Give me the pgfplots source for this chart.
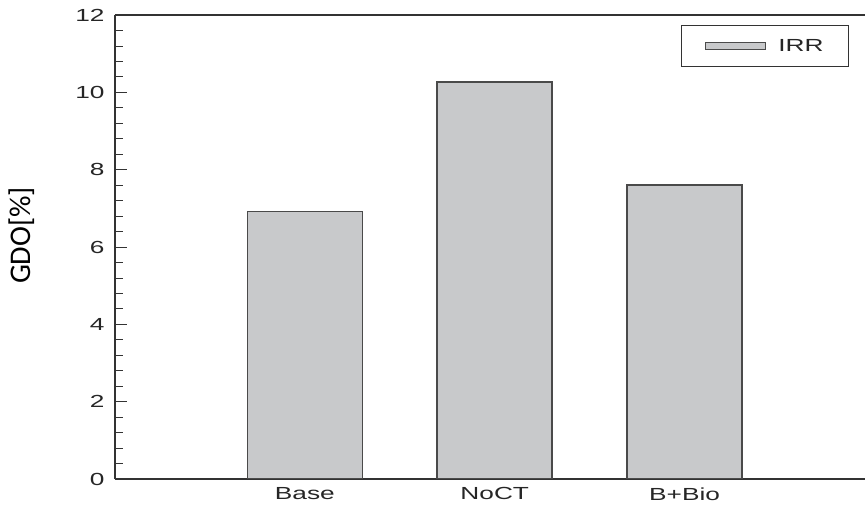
\documentclass[border=0pt]{standalone}
\usepackage{pgfplots}
\pgfplotsset{compat=1.18}
\usepackage{fontspec}
\setmainfont{Liberation Sans}
\newfontfamily\lab{Liberation Sans}[FakeStretch=1.5]
\newfontfamily\ylab{Carlito}
\definecolor{barfill}{HTML}{C8C9CB}
\definecolor{baredge}{HTML}{4A4A4A}
\definecolor{axcol}{HTML}{333333}
\begin{document}
\begin{tikzpicture}
\begin{axis}[
  scale only axis,
  width=750pt, height=464pt,
  xmin=0, xmax=3.95,
  ymin=0, ymax=12,
  axis x line*=box,
  axis y line*=left,
  axis line style={axcol, line width=1.1pt},
  xtick={1,2,3},
  xticklabels={Base,NoCT,B+Bio},
  major x tick style={draw=none},
  ytick={0,2,4,6,8,10,12},
  minor y tick num=4,
  tick align=inside,
  major tick length=12pt,
  minor tick length=8pt,
  tick style={axcol, line width=0.8pt},
  /pgf/number format/assume math mode=true,
  ticklabel style={font=\lab\fontsize{17.5}{20}\selectfont, color=black!85},
  yticklabel style={xshift=-7pt},
  xticklabel style={yshift=-5pt},
  ylabel={GDO[\%]},
  ylabel style={font=\ylab\fontsize{30}{34}\selectfont, at={(rel axis cs:-0.124,0.525)}, anchor=center},
  legend style={at={(rel axis cs:0.9787,0.978)}, anchor=north east, draw=axcol, line width=0.8pt,
     inner xsep=23pt, inner ysep=11.5pt, font=\lab\fontsize{17.5}{20}\selectfont, text=black!85,
     /tikz/column 1/.style={column sep=11pt}},
  legend image code/.code={\draw[fill=barfill, draw=baredge, line width=0.8pt] (0pt,-3.5pt) rectangle (60pt,3.5pt);},
]
\addplot[ybar, bar width=0.606, fill=barfill, draw=baredge, line width=1.6pt]
  coordinates {(1,6.92) (2,10.27) (3,7.60)};
\addlegendentry{IRR}
\end{axis}
\pgfresetboundingbox
\path[use as bounding box] (-115pt,-31pt) rectangle (750pt,479pt);
\end{tikzpicture}
\end{document}
